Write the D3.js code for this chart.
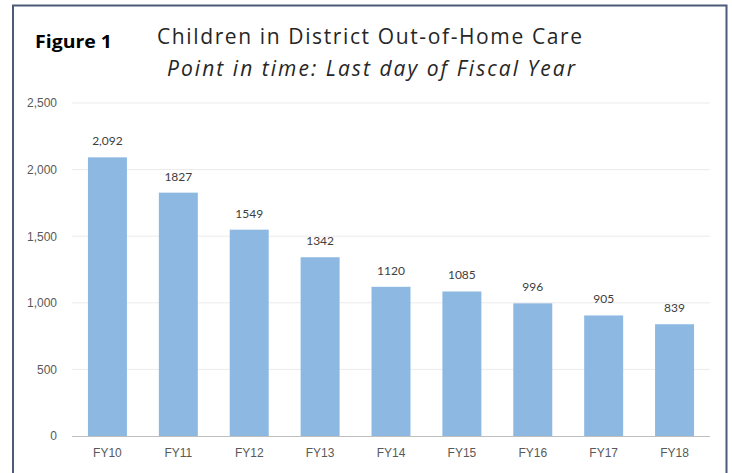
<!DOCTYPE html><html><head><meta charset="UTF-8"><script src="https://d3js.org/d3.v7.min.js"></script><style>
  body { margin: 0; background: #fff; }
  svg { display: block; font-family: Lato, "Open Sans", Arial, sans-serif; }
  .tick text { fill: #595959; font-size: 12px; }
  .val { fill: #404040; font-size: 12px; }
</style></head><body><div id="chart"></div><script>
const years = ["FY10","FY11","FY12","FY13","FY14","FY15","FY16","FY17","FY18"];
const children = [2092, 1827, 1549, 1342, 1120, 1085, 996, 905, 839];
const valueLabels = ["2,092","1827","1549","1342","1120","1085","996","905","839"];
const yTicks = [0, 500, 1000, 1500, 2000, 2500];

const W = 732, H = 473;
const plotLeft = 72, plotRight = 710, plotTop = 103, plotBottom = 436;

const svg = d3.select('#chart').append('svg')
  .attr('width', W).attr('height', H);

// frame
svg.append('path')
  .attr('d', `M13,${H + 2} V5.5 H726.5 V${H + 2}`)
  .attr('fill', 'none').attr('stroke', '#4b5b78').attr('stroke-width', 2);

// titles
svg.append('text').attr('x', 35).attr('y', 48)
  .attr('font-family', '"Open Sans", Arial, sans-serif')
  .attr('font-size', 18).attr('font-weight', 'bold').attr('fill', '#000')
  .attr('textLength', 77).attr('lengthAdjust', 'spacingAndGlyphs')
  .text('Figure 1');
svg.append('text').attr('x', 157).attr('y', 44)
  .attr('font-family', '"Open Sans", sans-serif')
  .attr('font-size', 21).attr('fill', '#262626')
  .attr('textLength', 425).attr('lengthAdjust', 'spacing')
  .text('Children in District Out-of-Home Care');
svg.append('text').attr('x', 167).attr('y', 76)
  .attr('font-family', '"Open Sans", sans-serif').attr('font-style', 'italic')
  .attr('font-size', 21).attr('fill', '#262626')
  .attr('textLength', 408).attr('lengthAdjust', 'spacing')
  .text('Point in time: Last day of Fiscal Year');

const x = d3.scaleBand().domain(years).range([plotLeft, plotRight]).paddingInner(0.45).paddingOuter(0.225);
const y = d3.scaleLinear().domain([0, 2500]).range([plotBottom, plotTop]);

// gridlines
svg.append('g').selectAll('line').data(yTicks.filter(d => d > 0)).join('line')
  .attr('x1', plotLeft).attr('x2', plotRight)
  .attr('y1', d => y(d)).attr('y2', d => y(d))
  .attr('stroke', '#ebebeb').attr('stroke-width', 1);

// y axis
const yAxis = svg.append('g').attr('transform', `translate(${plotLeft},0)`)
  .call(d3.axisLeft(y).tickValues(yTicks).tickFormat(d3.format(',')).tickSize(0).tickPadding(15));
yAxis.select('.domain').remove();

// bars
svg.append('g').selectAll('rect').data(children).join('rect')
  .attr('x', (d, i) => x(years[i]))
  .attr('y', d => y(d))
  .attr('width', x.bandwidth())
  .attr('height', d => y(0) - y(d))
  .attr('fill', '#8db8e2');

// value labels
svg.append('g').selectAll('text').data(children).join('text')
  .attr('class', 'val')
  .attr('x', (d, i) => x(years[i]) + x.bandwidth() / 2)
  .attr('y', d => y(d) - 12)
  .attr('text-anchor', 'middle')
  .text((d, i) => valueLabels[i]);

// x axis
const xAxis = svg.append('g').attr('transform', `translate(0,${plotBottom})`)
  .call(d3.axisBottom(x).tickSize(0).tickPadding(12));
xAxis.select('.domain').attr('stroke', '#bfbfbf').attr('d', `M${plotLeft},0.5H${plotRight}`);
</script></body></html>
